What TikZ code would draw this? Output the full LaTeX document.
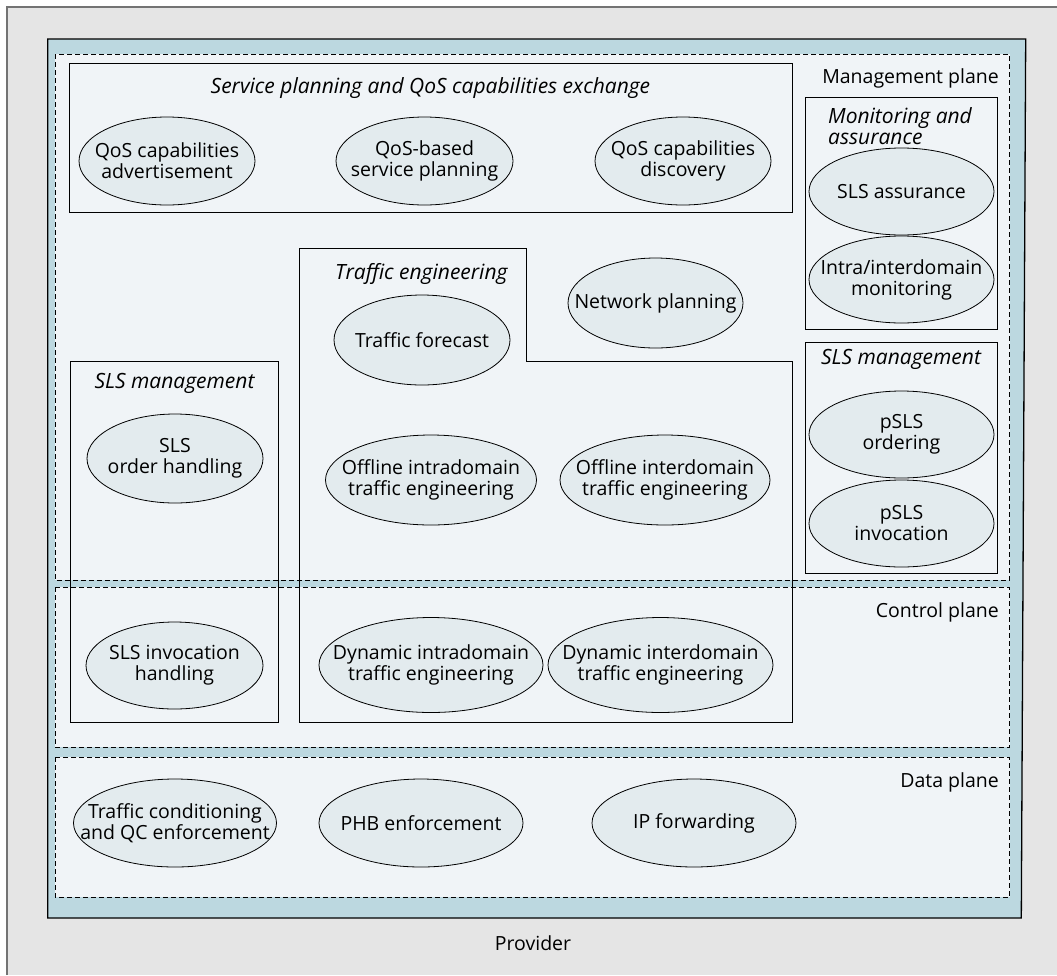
\documentclass[tikz,border=0pt]{standalone}
\usepackage{fontspec}
\setmainfont{Open Sans}
\usetikzlibrary{shapes.geometric}
\definecolor{bggray}{HTML}{E5E5E5}
\definecolor{framegray}{HTML}{737373}
\definecolor{provblue}{HTML}{BCD8E0}
\definecolor{planefill}{HTML}{F0F4F7}
\definecolor{ellfill}{HTML}{E3EBEE}
\newcommand\ellip[6]{%
  \node[ell, minimum width=#4pt, minimum height=#5pt] (#1) at (#2,#3) {};
  \node[etxt] (#1t) at (#1.center) {#6};}
\begin{document}
\begin{tikzpicture}[x=1pt,y=-1pt,
  plane/.style={draw=black, dash pattern=on 5pt off 3pt, line width=0.9pt, fill=planefill},
  grp/.style={draw=black, line width=0.9pt},
  ell/.style={ellipse, draw=black, line width=0.8pt, fill=ellfill, inner sep=0pt},
  etxt/.style={align=center, font=\fontsize{19.5}{21}\selectfont, inner sep=0pt},
  ttl/.style={font=\fontsize{21}{22}\selectfont\itshape, inner sep=0pt},
  lbl/.style={font=\fontsize{19.5}{21}\selectfont, inner sep=0pt}]

\useasboundingbox (0,0) rectangle (1057,975);
\fill[white] (0,0) rectangle (1057,975);
\fill[bggray] (7,7) rectangle (1057,975);
\draw[framegray, line width=2pt] (7,975) -- (7,7) -- (1057,7);

% provider box
\draw[fill=provblue, line width=1.3pt] (47.7,39) -- (1025.7,39) -- (1021.3,918) -- (47.7,918) -- cycle;

% planes
\draw[plane] (55,54) rectangle (1009.5,580);
\draw[plane] (55,587) rectangle (1009.5,747);
\draw[plane] (55,757) rectangle (1009.5,897);

% groups
\draw[grp] (69.5,63) rectangle (792.5,212);
\draw[grp] (805.7,97) rectangle (997,329);
\draw[grp] (805.7,342) rectangle (997,573);
\draw[grp] (70,361) rectangle (278.5,722);
\draw[grp] (299.5,248) -- (526,248) -- (526,361) -- (792.5,361) -- (792.5,722) -- (299.5,722) -- cycle;

% labels
\node[ttl] (tsp) at (430.5,88) {Service planning and QoS capabilities exchange};
\node[lbl, anchor=east] (mp) at (999,78) {Management plane};
\node[ttl, anchor=base west] (tma1) at (828,123) {Monitoring and};
\node[ttl, anchor=base west] (tma2) at (828,144) {assurance};
\node[ttl, anchor=base west] (tte) at (335,279) {Traffic engineering};
\node[ttl] (tsl) at (174.5,383) {SLS management};
\node[ttl] (tsr) at (901,359) {SLS management};
\node[lbl, anchor=east] (cp) at (999,612) {Control plane};
\node[lbl, anchor=east] (dp) at (999,782) {Data plane};
\node[lbl] (pv) at (533,943) {Provider};

% ellipses
\ellip{qca}{167}{161}{176}{88}{QoS capabilities\\advertisement}
\ellip{qsp}{424.5}{161}{177}{88}{QoS-based\\service planning}
\ellip{qcd}{683}{161}{176}{88}{QoS capabilities\\discovery}
\ellip{sla}{901.5}{191.5}{185}{87}{SLS assurance}
\ellip{iim}{901.5}{279.5}{185}{87}{Intra/interdomain\\monitoring}
\ellip{np}{655.5}{303}{175}{90}{Network planning}
\ellip{tf}{422}{340}{176}{90}{Traffic forecast}
\ellip{soh}{175}{458.5}{176}{89}{SLS\\order handling}
\ellip{oia}{431}{480}{211}{90}{Offline intradomain\\traffic engineering}
\ellip{oie}{665}{480}{210}{90}{Offline interdomain\\traffic engineering}
\ellip{pso}{901.5}{434.5}{185}{87}{pSLS\\ordering}
\ellip{psi}{901.5}{523.5}{185}{87}{pSLS\\invocation}
\ellip{sih}{174.5}{665.5}{177}{87}{SLS invocation\\handling}
\ellip{dia}{431}{665}{224}{95}{Dynamic intradomain\\traffic engineering}
\ellip{die}{660.5}{665}{225}{95}{Dynamic interdomain\\traffic engineering}
\ellip{tcq}{175}{823}{203}{88}{Traffic conditioning\\and QC enforcement}
\ellip{phb}{421}{823}{204}{88}{PHB enforcement}
\ellip{ipf}{694}{823}{204}{88}{IP forwarding}
\end{tikzpicture}
\end{document}
